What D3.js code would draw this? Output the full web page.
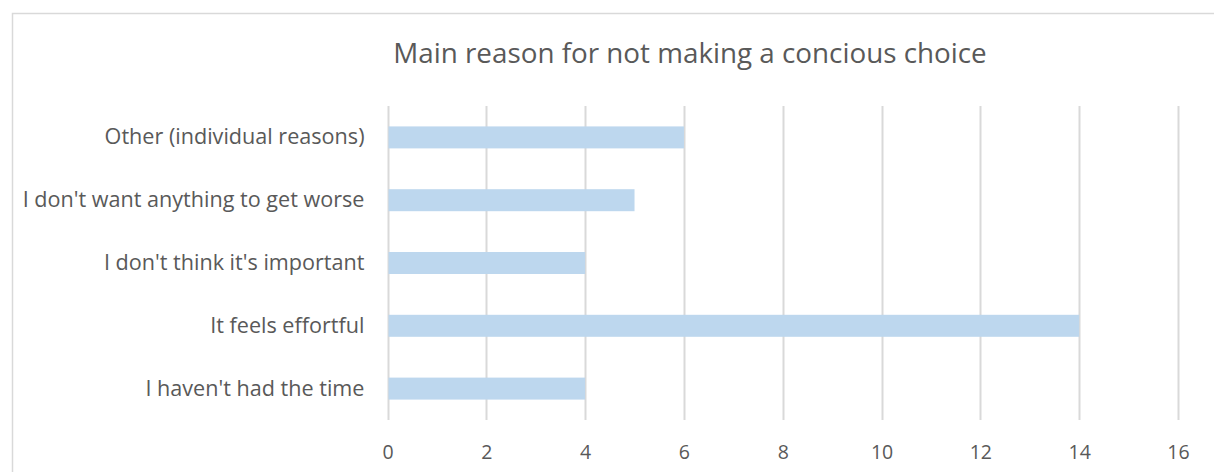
<!DOCTYPE html>
<html><head><meta charset="utf-8">
<script src="https://cdn.jsdelivr.net/npm/d3@7"></script>
<style>
html,body{margin:0;padding:0;background:#fff;}
svg{display:block;font-family:"Open Sans",sans-serif;}
</style></head>
<body>
<svg id="c" width="1214" height="472"></svg>
<script>
const title = "Main reason for not making a concious choice";
const categories = ["Other (individual reasons)","I don't want anything to get worse","I don't think it's important","It feels effortful","I haven't had the time"];
const values = [6,5,4,14,4];
const tickValues = [0,2,4,6,8,10,12,14,16];

const svg = d3.select("#c");
// chart border
svg.append("rect").attr("x",12.5).attr("y",13.5).attr("width",1250).attr("height",500)
  .attr("fill","none").attr("stroke","#d9d9d9").attr("stroke-width",1.5);

svg.append("text").attr("x",690).attr("y",63).attr("text-anchor","middle")
  .attr("font-size",27.8).attr("fill","#595959").text(title);

const x = d3.scaleLinear().domain([0,16]).range([387.5,1178]);
const y = d3.scaleBand().domain(categories).range([106,420]).paddingInner(0.65).paddingOuter(0.325);

// gridlines
svg.append("g").selectAll("line").data(tickValues).join("line")
  .attr("x1",d=>Math.round(x(d))+0.5).attr("x2",d=>Math.round(x(d))+0.5)
  .attr("y1",106).attr("y2",420).attr("stroke","#d9d9d9").attr("stroke-width",2);

// bars
svg.append("g").selectAll("rect").data(categories).join("rect")
  .attr("x",x(0)+1).attr("y",d=>y(d))
  .attr("width",(d,i)=>x(values[i])-x(0)-1).attr("height",y.bandwidth())
  .attr("fill","#bdd7ee");

// x axis labels
const xa = svg.append("g").attr("transform","translate(0,420)")
  .call(d3.axisBottom(x).tickValues(tickValues).tickSize(0).tickPadding(25));
xa.select(".domain").remove();
xa.selectAll("text").attr("font-size",19.5).attr("fill","#595959").attr("font-family","'Open Sans',sans-serif");

// y labels
const ya = svg.append("g").attr("transform","translate(387.5,0)")
  .call(d3.axisLeft(y).tickSize(0).tickPadding(23));
ya.select(".domain").remove();
ya.selectAll("text").attr("font-size",21.6).attr("fill","#595959").attr("font-family","'Open Sans',sans-serif");
</script>
</body></html>
